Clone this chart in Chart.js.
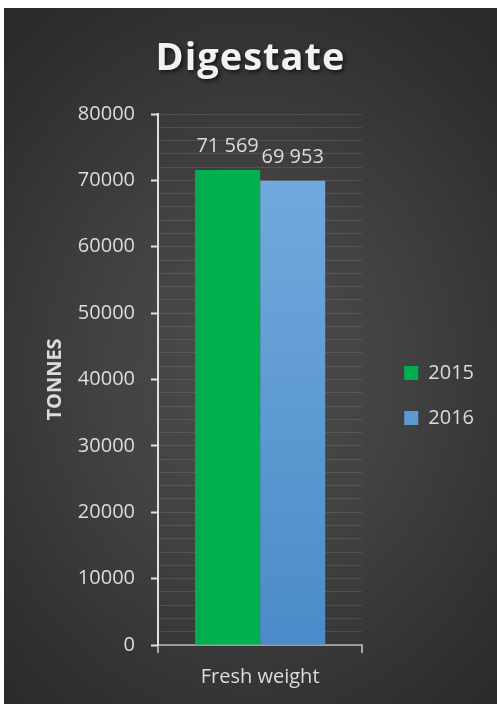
<!DOCTYPE html>
<html>
<head>
<meta charset="utf-8">
<script src="https://cdn.jsdelivr.net/npm/chart.js@4.4.0/dist/chart.umd.min.js"></script>
<style>
  html, body { margin: 0; padding: 0; background: #ffffff; }
  #wrap {
    position: absolute; left: 4px; top: 8px; width: 493px; height: 696px;
    background: radial-gradient(ellipse 75% 65% at 50% 52%, #4c4c4c 0%, #424242 40%, #2f2f2f 85%, #2a2a2a 100%);
    overflow: hidden;
  }
  #title {
    position: absolute; left: 0; top: 28px; width: 100%; text-align: center;
    font-family: "Open Sans", sans-serif; font-weight: 700; font-size: 38px; line-height: 38px;
    letter-spacing: 1px; color: #f2f2f2;
    text-shadow: 2px 2px 4px rgba(0,0,0,0.65);
    z-index: 2;
  }
  canvas { position: absolute; left: 0; top: 0; }
</style>
</head>
<body>
<div id="wrap">
  <div id="title">Digestate</div>
  <canvas id="c" width="493" height="696"></canvas>
</div>
<script>
const categories = ["Fresh weight"];
const seriesNames = ["2015", "2016"];
const values2015 = [71569];
const values2016 = [69953];
const yAxisTitle = "TONNES";
const yMin = 0, yMax = 80000, yMajorStep = 10000, yMinorStep = 2000;

const textColor = '#dcdcdc';
Chart.defaults.font.family = '"Open Sans", sans-serif';
Chart.defaults.color = textColor;

function fmt(v) { return String(v).replace(/\B(?=(\d{3})+(?!\d))/g, ' '); }

function blueFill(ctx) {
  if (ctx.type !== 'data') return '#65a0d8';
  const chart = ctx.chart;
  const area = chart.chartArea;
  if (!area) return '#65a0d8';
  const top = chart.scales.y.getPixelForValue(ctx.raw);
  const g = chart.ctx.createLinearGradient(0, top, 0, area.bottom);
  g.addColorStop(0, '#72a9dc');
  g.addColorStop(1, '#4a8bc9');
  return g;
}

const valueLabels = {
  id: 'valueLabels',
  afterDatasetsDraw(chart) {
    const ctx = chart.ctx;
    ctx.save();
    ctx.font = '20px "Open Sans", sans-serif';
    ctx.fillStyle = textColor;
    ctx.textAlign = 'center';
    ctx.textBaseline = 'alphabetic';
    chart.data.datasets.forEach((ds, i) => {
      const meta = chart.getDatasetMeta(i);
      meta.data.forEach((el, j) => {
        ctx.fillText(fmt(ds.data[j]), el.x, el.y - 17.5);
      });
    });
    ctx.restore();
  }
};

const hiddenAxis = {
  display: true,
  grid: { display: false, drawTicks: false },
  border: { display: false },
  ticks: { display: false }
};

new Chart(document.getElementById('c'), {
  type: 'bar',
  data: {
    labels: categories,
    datasets: [
      { label: seriesNames[0], data: values2015, backgroundColor: '#00b050', borderWidth: 0 },
      { label: seriesNames[1], data: values2016, backgroundColor: blueFill, borderWidth: 0 }
    ]
  },
  options: {
    responsive: false,
    animation: false,
    devicePixelRatio: 1,
    layout: { padding: { left: 26, top: 91, right: 13, bottom: 12 } },
    datasets: { bar: { categoryPercentage: 0.637, barPercentage: 1.0 } },
    plugins: {
      legend: {
        position: 'right',
        maxWidth: 200,
        labels: {
          boxWidth: 14, boxHeight: 14, padding: 25,
          color: textColor, font: { size: 20 }
        }
      },
      tooltip: { enabled: false },
      title: { display: false }
    },
    scales: {
      x: {
        grid: {
          display: true, drawOnChartArea: false, offset: true,
          tickLength: 8, color: 'rgba(217,217,217,0.7)', lineWidth: 2
        },
        border: { display: true, color: 'rgba(217,217,217,0.6)', width: 2 },
        ticks: { color: textColor, font: { size: 20 }, padding: 12 },
        afterFit(s) { s.height = 47; }
      },
      xTop: Object.assign({ type: 'linear', axis: 'x', position: 'top', afterFit(s) { s.height = 15; } }, hiddenAxis),
      y: {
        min: yMin, max: yMax,
        grid: {
          color: 'rgba(255,255,255,0.1)', lineWidth: 1,
          tickLength: 7, tickWidth: 2,
          tickColor: c => (c.tick && c.tick.value % yMajorStep === 0) ? '#e0e0e0' : 'rgba(0,0,0,0)'
        },
        border: { display: true, color: '#e0e0e0', width: 2 },
        ticks: {
          stepSize: yMinorStep, autoSkip: false, padding: 16,
          color: textColor, font: { size: 20 },
          callback: v => (v % yMajorStep === 0) ? String(v) : ''
        },
        title: {
          display: true, text: yAxisTitle, color: textColor,
          font: { size: 20, weight: 'bold' }, padding: { top: 13, bottom: 11 }
        },
        afterFit(s) { s.width = 128; }
      },
      yPad: Object.assign({ type: 'linear', axis: 'y', position: 'right', afterFit(s) { s.width = 17; } }, hiddenAxis)
    }
  },
  plugins: [valueLabels]
});
</script>
</body>
</html>
